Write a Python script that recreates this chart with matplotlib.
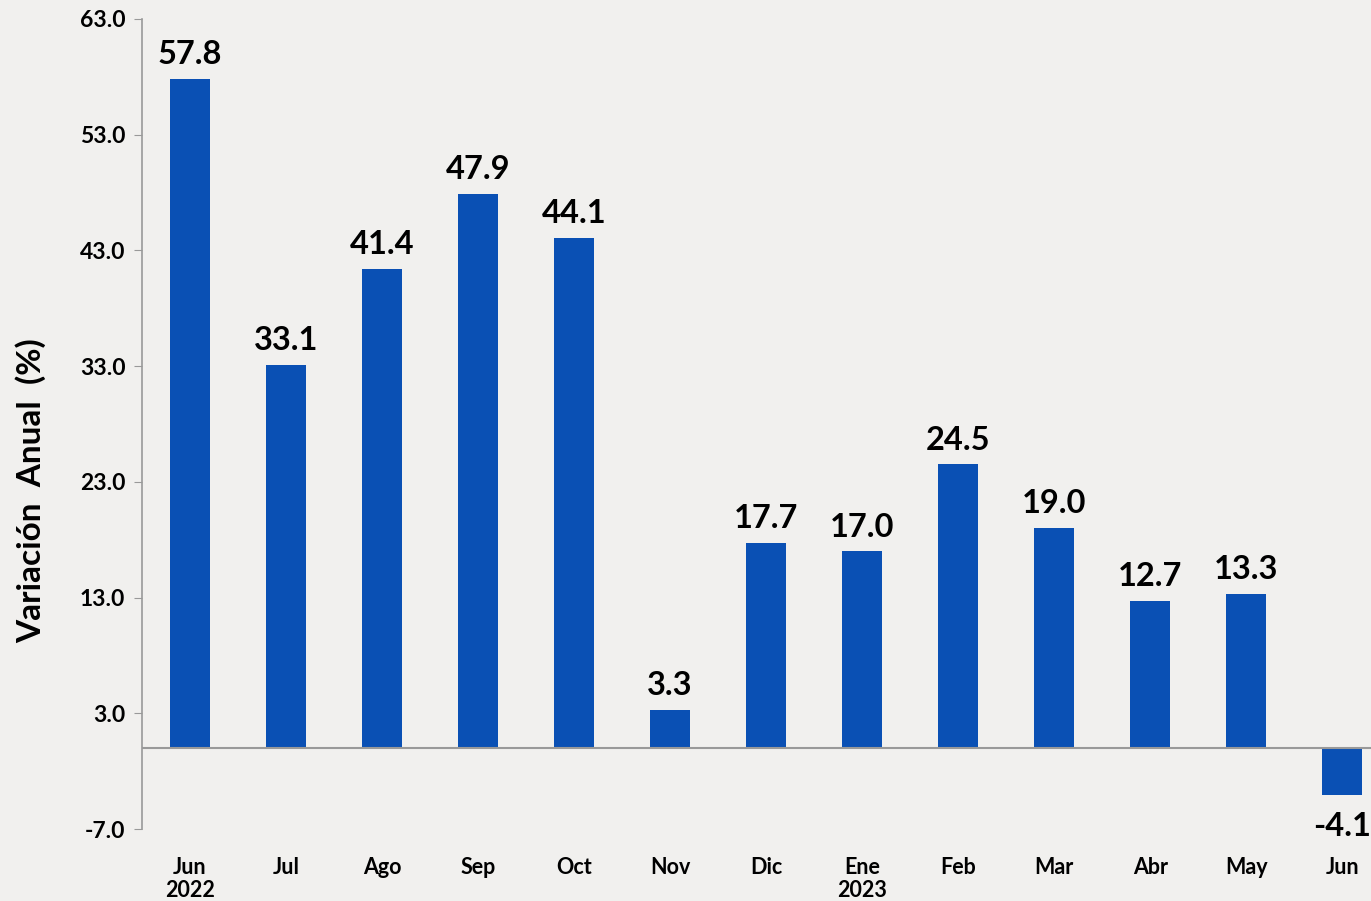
import matplotlib.pyplot as plt

# Annual variation values
months = ['Jun\n2022', 'Jul', 'Ago', 'Sep', 'Oct', 'Nov', 'Dic',
          'Ene\n2023', 'Feb', 'Mar', 'Abr', 'May', 'Jun']
values = [57.8, 33.1, 41.4, 47.9, 44.1, 3.3, 17.7,
          17.0, 24.5, 19.0, 12.7, 13.3, -4.1]
yticks = [-7.0, 3.0, 13.0, 23.0, 33.0, 43.0, 53.0, 63.0]

plt.rcParams['font.family'] = ['Lato', 'DejaVu Sans']

bg = '#f1f0ee'
fig = plt.figure(figsize=(13.71, 9.01), dpi=100, facecolor=bg)
ax = fig.add_axes([0.1036, 0.0799, 0.8964, 0.8991])
ax.set_facecolor(bg)

x = list(range(len(values)))
ax.bar(x, values, width=0.42, color='#0a50b4', zorder=2)
ax.axhline(0, color='#999999', lw=1.5, zorder=3)

for xi, v in zip(x, values):
    if v >= 0:
        ax.annotate(f'{v:.1f}', (xi, v), xytext=(0, 7), textcoords='offset points',
                    ha='center', va='bottom', fontsize=23.5, fontweight='bold')
    else:
        ax.annotate(f'{v:.1f}', (xi, v), xytext=(0, -12), textcoords='offset points',
                    ha='center', va='top', fontsize=23.5, fontweight='bold')

ax.set_ylim(-7, 63)
ax.set_xlim(-0.5, 12.3)
ax.set_yticks(yticks)
ax.set_yticklabels([f'{t:.1f}' for t in yticks], fontsize=16.5, fontweight='bold')
ax.set_xticks(x)
ax.set_xticklabels(months, fontsize=15.5, fontweight='bold', linespacing=1.15)
ax.tick_params(axis='x', length=0, pad=20)
ax.tick_params(axis='y', length=6, color='#999999', pad=6)

for s in ['top', 'right', 'bottom']:
    ax.spines[s].set_visible(False)
ax.spines['left'].set_color('#999999')
ax.spines['left'].set_linewidth(1.2)

ax.set_ylabel('Variación  Anual  (%)', fontsize=24, fontweight='bold')
ax.yaxis.set_label_coords(-0.078, 0.418)

fig.savefig('out.png', dpi=100, facecolor=bg)
